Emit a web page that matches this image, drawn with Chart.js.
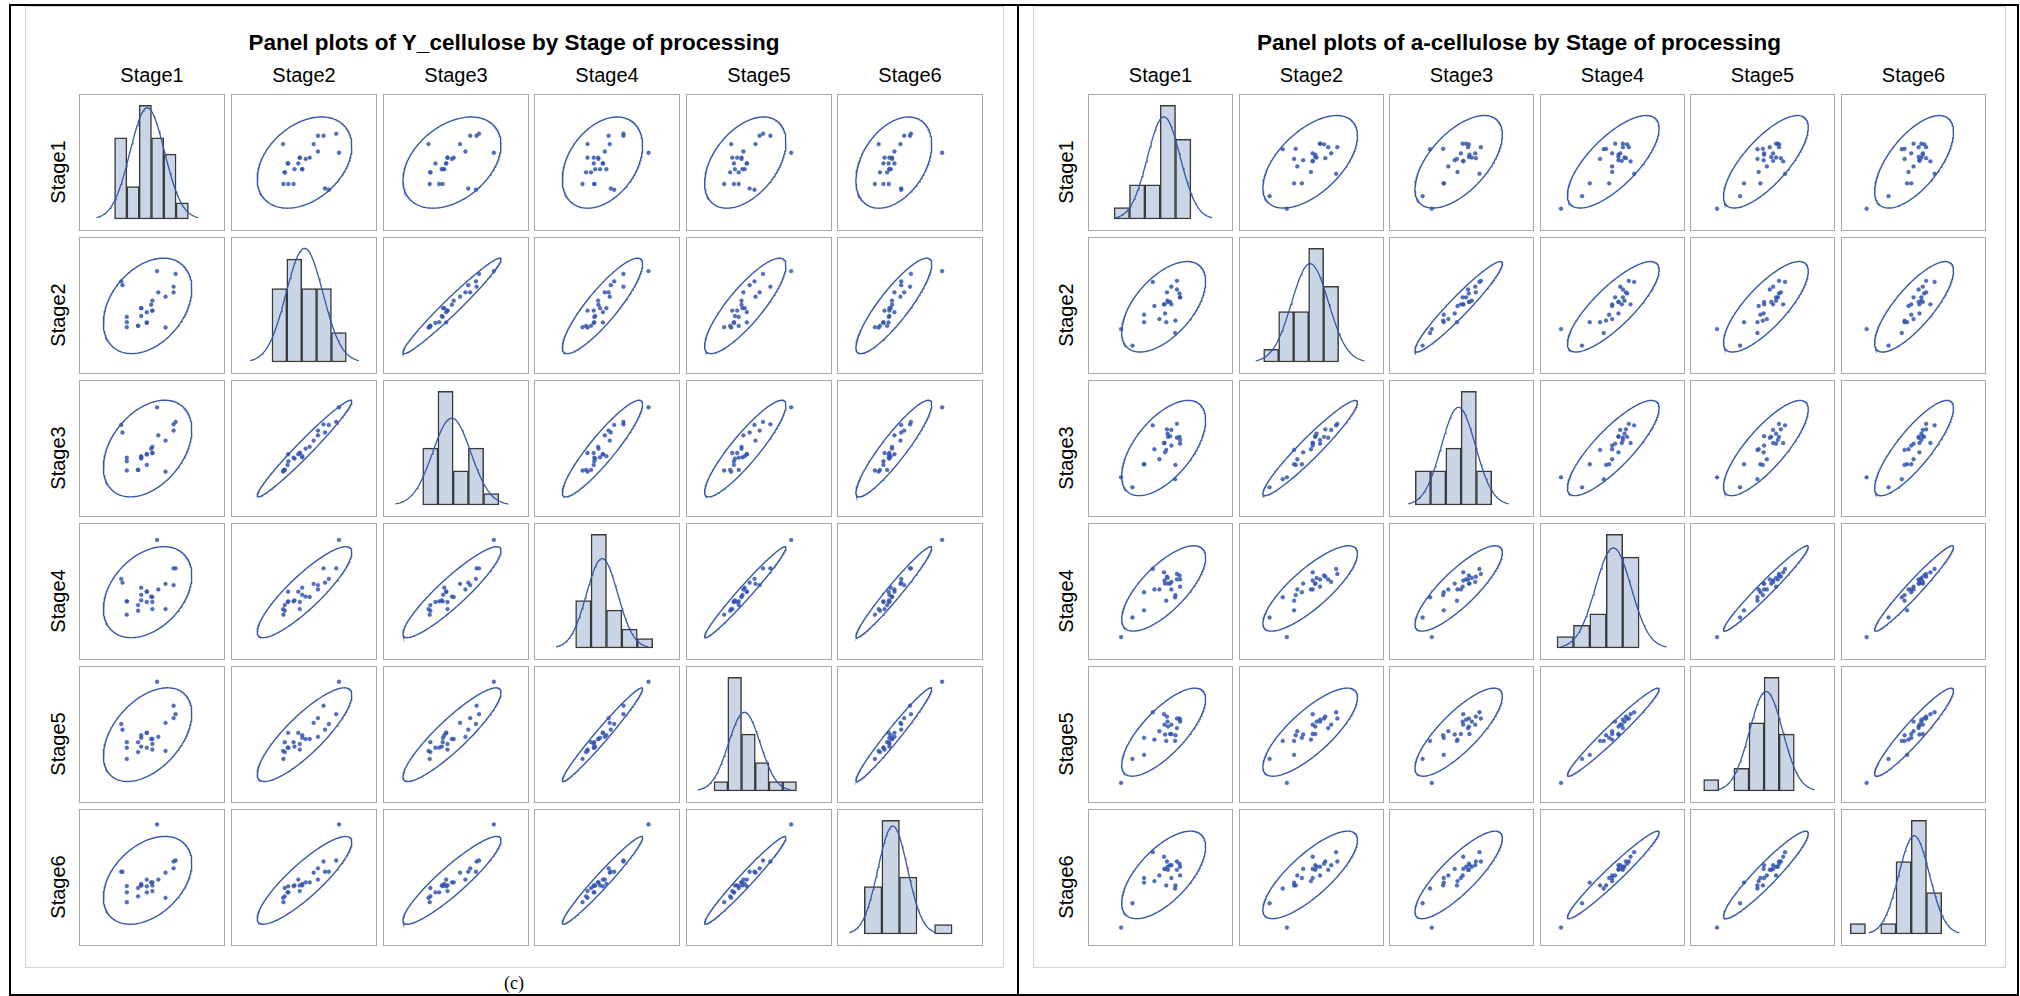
<!DOCTYPE html>
<html>
<head>
<meta charset="utf-8">
<script src="https://cdn.jsdelivr.net/npm/chart.js@4.4.1/dist/chart.umd.min.js"></script>
<style>
  html, body { margin: 0; padding: 0; background: #fff; }
  #page { position: relative; width: 2020px; height: 996px; overflow: hidden;
          font-family: "Liberation Sans", Arial, sans-serif; color: #000; }
  .rule { position: absolute; background: #000; }
  .frame { position: absolute; border: 1px solid #d2d2d2; box-sizing: border-box; }
  .cell { position: absolute; }
  .cell canvas { position: absolute; left: 0; top: 0; }
  .box { position: absolute; left: 0; top: 0; right: 0; bottom: 0;
         border: 1px solid #a8a8a8; box-sizing: border-box; pointer-events: none; }
  .title { position: absolute; font-weight: bold; font-size: 22.5px; line-height: 22px;
           white-space: nowrap; transform: translate(-50%, -50%); }
  .colhead { position: absolute; font-size: 20px; line-height: 20px; white-space: nowrap;
             transform: translate(-50%, -50%); }
  .rowhead { position: absolute; font-size: 20px; line-height: 20px; white-space: nowrap;
             transform: translate(-50%, -50%) rotate(-90deg); }
  .caption { position: absolute; font-family: "Liberation Serif", "Times New Roman", serif;
             font-size: 18px; line-height: 18px; transform: translate(-50%, -50%); }
</style>
</head>
<body>
<div id="page"></div>
<script>
// ---- stage names (matrix rows / columns) ----
const stageNames = ['Stage1', 'Stage2', 'Stage3', 'Stage4', 'Stage5', 'Stage6'];

// ---- Y_cellulose, 24 lots measured after each processing stage ----
const yStage1 = [28.7, 29.7, 33.2, 33.2, 33.2, 42.3, 42.3, 44.8, 44.8, 44.8, 49.3, 49.3, 49.3, 52.8, 53.8, 53.8, 53.8, 57.6, 58.6, 64.4, 64.4, 70.9, 70.9, 72.5];
const yStage2 = [68.9, 65.9, 41.1, 37.0, 33.1, 34.1, 34.1, 47.9, 47.9, 41.8, 44.8, 36.8, 36.4, 50.6, 53.8, 46.0, 46.0, 76.9, 60.3, 56.9, 32.8, 64.7, 60.3, 74.7];
const yStage3 = [68.4, 62.5, 42.8, 40.1, 32.8, 33.3, 33.3, 44.0, 43.1, 42.1, 45.5, 45.5, 37.2, 49.9, 51.3, 46.5, 46.5, 82.2, 60.3, 56.2, 31.9, 68.9, 64.0, 70.8];
const yStage4 = [59.9, 56.9, 42.3, 42.3, 31.9, 39.4, 35.0, 53.0, 47.4, 43.1, 49.9, 49.9, 41.8, 46.0, 45.7, 41.8, 36.3, 90.3, 51.6, 56.0, 36.3, 68.1, 55.0, 68.1];
const yStage5 = [58.2, 53.8, 44.0, 39.7, 30.9, 44.0, 36.3, 49.4, 47.4, 40.6, 51.3, 51.3, 39.7, 46.5, 46.5, 42.6, 38.2, 91.2, 48.2, 59.1, 37.2, 72.5, 62.8, 65.9];
const yStage6 = [54.5, 54.5, 43.3, 38.4, 30.7, 41.8, 35.3, 45.0, 43.8, 43.8, 48.4, 43.1, 38.4, 46.2, 46.2, 43.8, 39.4, 91.5, 48.4, 53.8, 34.1, 62.5, 57.2, 63.3];

// ---- a-cellulose, same 24 lots ----
const aStage1 = [13.9, 23.7, 33.7, 33.7, 41.2, 42.6, 46.9, 50.9, 51.3, 51.8, 53.4, 53.9, 54.3, 52.8, 57.2, 56.1, 57.2, 62.0, 62.0, 60.7, 60.4, 64.2, 64.7, 64.7];
const aStage2 = [31.6, 18.7, 42.8, 37.0, 68.4, 49.6, 39.4, 50.9, 50.9, 43.8, 60.3, 53.8, 52.8, 37.0, 64.7, 52.8, 50.9, 69.3, 62.5, 38.2, 28.5, 59.4, 56.4, 56.4];
const aStage3 = [27.5, 19.7, 37.7, 37.7, 68.1, 49.4, 41.6, 54.3, 54.3, 47.0, 65.0, 61.6, 59.1, 48.9, 64.5, 59.6, 52.3, 69.3, 58.4, 37.2, 26.0, 59.1, 56.7, 53.8];
const aStage4 = [14.4, 29.7, 49.4, 35.3, 67.6, 51.6, 51.6, 65.0, 58.6, 56.2, 61.6, 60.6, 56.2, 42.8, 57.5, 56.2, 51.6, 63.7, 59.4, 47.2, 45.5, 62.5, 59.4, 53.8];
const aStage5 = [12.2, 30.9, 47.4, 34.1, 67.4, 46.0, 52.6, 65.9, 57.7, 50.0, 64.0, 60.1, 56.2, 45.0, 57.7, 50.4, 50.4, 62.5, 55.0, 49.4, 45.0, 62.5, 61.6, 60.1];
const aStage6 = [10.9, 29.9, 49.6, 46.0, 69.8, 47.2, 51.6, 66.2, 56.7, 56.7, 62.5, 58.4, 56.0, 43.8, 59.6, 59.6, 49.6, 62.5, 56.0, 43.8, 41.4, 60.8, 58.4, 51.6];

// ---- axis ranges of each stage when it is the horizontal variable ----
const yAxisMin = [-1.7, -4.7, 0.3, -7.1, 0.6, 0.5];
const yAxisMax = [108.7, 103.3, 105.8, 114.2, 123.9, 124.4];
const aAxisMin = [-10.7, -0.8, -5.1, 2.4, -6.1, -7.4];
const aAxisMax = [106.4, 100.8, 110.7, 101.3, 104.3, 110.5];
// vertical range shared by every row
const rowAxisMin = 0;
const rowAxisMax = 100;

// ---- histogram bins on the diagonal ----
const yBinStart = [25.2, 25.6, 29.0, 27.5, 24.3, 23.7];
const yBinWidth = [9.3, 11.0, 11.0, 12.8, 11.6, 14.9];
const yBinCount = [6, 5, 5, 5, 6, 5];
const aBinStart = [10.4, 16.5, 15.9, 14.0, 4.3, 0.1];
const aBinWidth = [12.4, 10.5, 12.2, 11.2, 11.5, 12.4];
const aBinCount = [5, 5, 5, 5, 6, 6];

// ---- styling ----
const LINE_BLUE = '#3657ad';
const MARK_BLUE = 'rgba(52, 86, 176, 0.85)';
const BAR_FILL = '#cad5e5';
const BAR_EDGE = '#3a3a3a';

const ROW_TOP = 94, ROW_PITCH = 143, CELL_H = 137;

const panels = [
  {
    title: 'Panel plots of Y_cellulose by Stage of processing',
    vars: [yStage1, yStage2, yStage3, yStage4, yStage5, yStage6],
    xMin: yAxisMin, xMax: yAxisMax,
    binStart: yBinStart, binWidth: yBinWidth, binCount: yBinCount,
    left: 79.3, pitch: 151.6, width: 146, titleX: 514, rowLabelX: 58
  },
  {
    title: 'Panel plots of a-cellulose by Stage of processing',
    vars: [aStage1, aStage2, aStage3, aStage4, aStage5, aStage6],
    xMin: aAxisMin, xMax: aAxisMax,
    binStart: aBinStart, binWidth: aBinWidth, binCount: aBinCount,
    left: 1088.3, pitch: 150.5, width: 145, titleX: 1519, rowLabelX: 1066
  }
];

const page = document.getElementById('page');

function addDiv(cls, css, text) {
  const d = document.createElement('div');
  d.className = cls;
  Object.assign(d.style, css);
  if (text !== undefined) d.textContent = text;
  page.appendChild(d);
  return d;
}

// document table rules and the two graph frames
addDiv('rule', { left: '9px', top: '4px', width: '2009px', height: '2px' });
addDiv('rule', { left: '9px', top: '994px', width: '2009px', height: '2px' });
addDiv('rule', { left: '9px', top: '4px', width: '2px', height: '992px' });
addDiv('rule', { left: '2017px', top: '4px', width: '2px', height: '992px' });
addDiv('rule', { left: '1017px', top: '4px', width: '2px', height: '992px' });
addDiv('frame', { left: '25px', top: '6px', width: '979px', height: '962px' });
addDiv('frame', { left: '1033px', top: '6px', width: '973px', height: '962px' });
addDiv('caption', { left: '514px', top: '983px' }, '(c)');

// ---- statistics helpers ----
function mean(a) { return a.reduce((s, v) => s + v, 0) / a.length; }
function cov(a, b) {
  const ma = mean(a), mb = mean(b);
  let s = 0;
  for (let k = 0; k < a.length; k++) s += (a[k] - ma) * (b[k] - mb);
  return s / (a.length - 1);
}
// radius of the 95% prediction ellipse for n bivariate observations
function predictionRadius(n) {
  const df2 = n - 2;
  const f = (df2 / 2) * (Math.pow(0.05, -2 / df2) - 1);   // F(0.95; 2, n-2)
  return Math.sqrt(2 * (n - 1) * (n + 1) / (n * (n - 2)) * f);
}
function ellipse(xs, ys) {
  const mx = mean(xs), my = mean(ys);
  const sxx = cov(xs, xs), syy = cov(ys, ys), sxy = cov(xs, ys);
  const c = predictionRadius(xs.length);
  const l11 = Math.sqrt(sxx), l21 = sxy / l11, l22 = Math.sqrt(Math.max(syy - l21 * l21, 0));
  const pts = [];
  for (let k = 0; k <= 240; k++) {
    const t = (k / 240) * 2 * Math.PI;
    const u = Math.cos(t), v = Math.sin(t);
    pts.push({ x: mx + c * l11 * u, y: my + c * (l21 * u + l22 * v) });
  }
  return pts;
}

const baseOptions = () => ({
  responsive: false,
  animation: false,
  devicePixelRatio: 1,
  events: [],
  layout: { padding: 0 },
  plugins: { legend: { display: false }, tooltip: { enabled: false } }
});

function makeCanvas(left, top, w, h) {
  const wrap = addDiv('cell', { left: left + 'px', top: top + 'px', width: w + 'px', height: h + 'px' });
  const cv = document.createElement('canvas');
  cv.width = w; cv.height = h;
  cv.style.width = w + 'px'; cv.style.height = h + 'px';
  wrap.appendChild(cv);
  const box = document.createElement('div');
  box.className = 'box';
  wrap.appendChild(box);
  return cv;
}

function scatterCell(cv, p, i, j) {
  const xs = p.vars[j], ys = p.vars[i];
  const pts = xs.map((x, k) => ({ x: x, y: ys[k] }));
  const opts = baseOptions();
  opts.scales = {
    x: { type: 'linear', min: p.xMin[j], max: p.xMax[j], display: false },
    y: { type: 'linear', min: rowAxisMin, max: rowAxisMax, display: false }
  };
  new Chart(cv, {
    type: 'scatter',
    data: {
      datasets: [
        { type: 'line', data: ellipse(xs, ys), borderColor: LINE_BLUE, borderWidth: 1.4,
          pointRadius: 0, fill: false, tension: 0, order: 2 },
        { type: 'scatter', data: pts, pointStyle: 'circle', pointRadius: 1.9,
          backgroundColor: MARK_BLUE, borderColor: MARK_BLUE, borderWidth: 0.5, order: 1 }
      ]
    },
    options: opts
  });
}

function histogramCell(cv, p, j) {
  const xs = p.vars[j];
  const n = xs.length;
  const start = p.binStart[j], bw = p.binWidth[j], nb = p.binCount[j];
  const counts = new Array(nb).fill(0);
  xs.forEach(v => {
    const b = Math.min(nb - 1, Math.max(0, Math.floor((v - start) / bw)));
    counts[b]++;
  });
  const bars = counts.map((c, b) => ({ x: start + (b + 0.5) * bw, y: c }));

  // fitted normal density, scaled to counts per bin
  const mu = mean(xs), sd = Math.sqrt(cov(xs, xs));
  const curve = [];
  for (let k = 0; k <= 120; k++) {
    const x = mu - 2.95 * sd + (k / 120) * 5.9 * sd;
    const z = (x - mu) / sd;
    curve.push({ x: x, y: n * bw * Math.exp(-0.5 * z * z) / (sd * Math.sqrt(2 * Math.PI)) });
  }
  const peak = Math.max(Math.max(...counts), n * bw / (sd * Math.sqrt(2 * Math.PI)));
  const top = peak * 1.1;

  const opts = baseOptions();
  opts.scales = {
    x: { type: 'linear', min: p.xMin[j], max: p.xMax[j], offset: false, display: false,
         grid: { offset: false } },
    y: { type: 'linear', min: -top * 12 / 125, max: top, display: false }
  };
  new Chart(cv, {
    type: 'bar',
    data: {
      datasets: [
        { type: 'line', data: curve, borderColor: LINE_BLUE, borderWidth: 1.3,
          pointRadius: 0, fill: false, tension: 0, order: 0 },
        { type: 'bar', data: bars, backgroundColor: BAR_FILL, borderColor: BAR_EDGE,
          borderWidth: 1.5, borderSkipped: false, barPercentage: 1, categoryPercentage: 1,
          grouped: false, order: 1 }
      ]
    },
    options: opts
  });
}

panels.forEach(p => {
  addDiv('title', { left: p.titleX + 'px', top: '43px' }, p.title);
  for (let j = 0; j < 6; j++) {
    const cx = Math.round(p.left + j * p.pitch) + p.width / 2;
    addDiv('colhead', { left: cx + 'px', top: '75px' }, stageNames[j]);
  }
  for (let i = 0; i < 6; i++) {
    const top = ROW_TOP + i * ROW_PITCH;
    addDiv('rowhead', { left: p.rowLabelX + 'px', top: (top + CELL_H / 2 + 9) + 'px' }, stageNames[i]);
    for (let j = 0; j < 6; j++) {
      const left = Math.round(p.left + j * p.pitch);
      const cv = makeCanvas(left, top, p.width, CELL_H);
      if (i === j) histogramCell(cv, p, j);
      else scatterCell(cv, p, i, j);
    }
  }
});
</script>
</body>
</html>
